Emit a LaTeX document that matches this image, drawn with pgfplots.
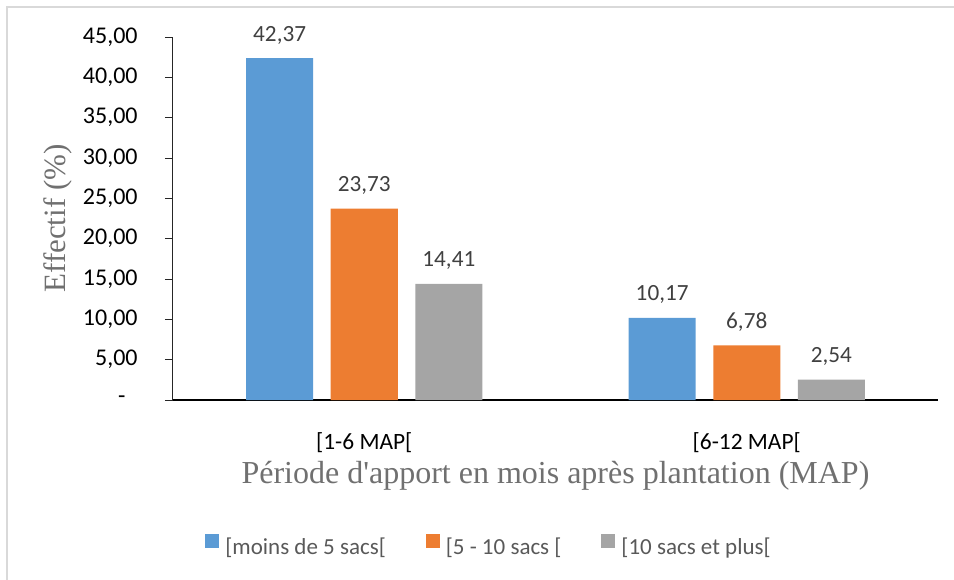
\documentclass[border=0pt]{standalone}
\usepackage{fontspec}
\setmainfont{Carlito}
\newfontfamily\tnr{Liberation Serif}
\usepackage{pgfplots}
\pgfplotsset{compat=1.18}
\definecolor{serA}{RGB}{91,155,213}
\definecolor{serB}{RGB}{237,125,49}
\definecolor{serC}{RGB}{165,165,165}
\definecolor{frame}{RGB}{217,217,217}
\definecolor{lbl}{RGB}{64,64,64}
\definecolor{ttl}{RGB}{112,112,112}
\definecolor{legtxt}{RGB}{89,89,89}

\begin{document}
\begin{tikzpicture}
\path[use as bounding box] (0,0) rectangle (477pt,289.5pt);
% outer chart frame (left and top edges visible)
\draw[frame, line width=1pt] (3.5pt,-2pt) -- (3.5pt,285.75pt) -- (480pt,285.75pt);
\begin{axis}[
    at={(86.5pt,89.5pt)}, anchor=south west,
    scale only axis, width=382.5pt, height=181.5pt,
    xmin=-0.5, xmax=1.5, ymin=0, ymax=45,
    axis x line*=bottom, axis y line*=left,
    x axis line style={black, line width=0.8pt, -},
    y axis line style={black!85, line width=0.5pt, -},
    xtick={0,1},
    xticklabels={{[1-6 MAP[},{[6-12 MAP[}},
    xtick style={draw=none},
    xticklabel style={font=\fontsize{11.7}{13}\selectfont, anchor=base, yshift=-20.5pt, text=black},
    ytick={0,5,...,45},
    yticklabels={{-\hphantom{0}},{5,00},{10,00},{15,00},{20,00},{25,00},{30,00},{35,00},{40,00},{45,00}},
    yticklabel style={font=\fontsize{12}{13}\selectfont, anchor=east, inner sep=0pt, xshift=-13.5pt, text=black},
    tick align=outside, major tick length=4pt,
    ytick style={black!85, line width=0.5pt},
    ylabel={Effectif (\%)},
    ylabel style={font=\tnr\fontsize{15.5}{17}\selectfont, text=ttl, at={(axis description cs:-0.1503,0.5)}, anchor=center},
    xlabel={Période d'apport en mois après plantation (MAP)},
    xlabel style={font=\tnr\fontsize{16}{18}\selectfont, text=ttl, at={(axis description cs:0.5,-0.2287)}, anchor=base},
    ybar=8.8pt, bar width=33.5pt,
    /pgf/number format/assume math mode=true,
    /pgf/number format/fixed,
    /pgf/number format/fixed zerofill,
    /pgf/number format/precision=2,
    /pgf/number format/use comma,
    nodes near coords,
    nodes near coords style={font=\fontsize{11.6}{13}\selectfont, text=lbl},
    every node near coord/.append style={anchor=base, inner sep=0pt, yshift=8.5pt},
    legend columns=3,
    legend style={draw=none, fill=none, at={(0.4118,-0.4022)}, anchor=center,
        font=\fontsize{11.5}{13}\selectfont, text=legtxt,
        nodes={inner sep=0pt},
        /tikz/every odd column/.append style={column sep=3pt},
        /tikz/every even column/.append style={column sep=20pt}},
    legend image code/.code={\fill[#1] (0pt,0pt) rectangle (7pt,7pt);},
]
\addplot[fill=serA, draw=none] coordinates {(0,42.37) (1,10.17)};
\addlegendentry{[moins de 5 sacs[}
\addplot[fill=serB, draw=none] coordinates {(0,23.73) (1,6.78)};
\addlegendentry{[5 - 10 sacs [}
\addplot[fill=serC, draw=none] coordinates {(0,14.41) (1,2.54)};
\addlegendentry{[10 sacs et plus[}
\end{axis}
\end{tikzpicture}
\end{document}
